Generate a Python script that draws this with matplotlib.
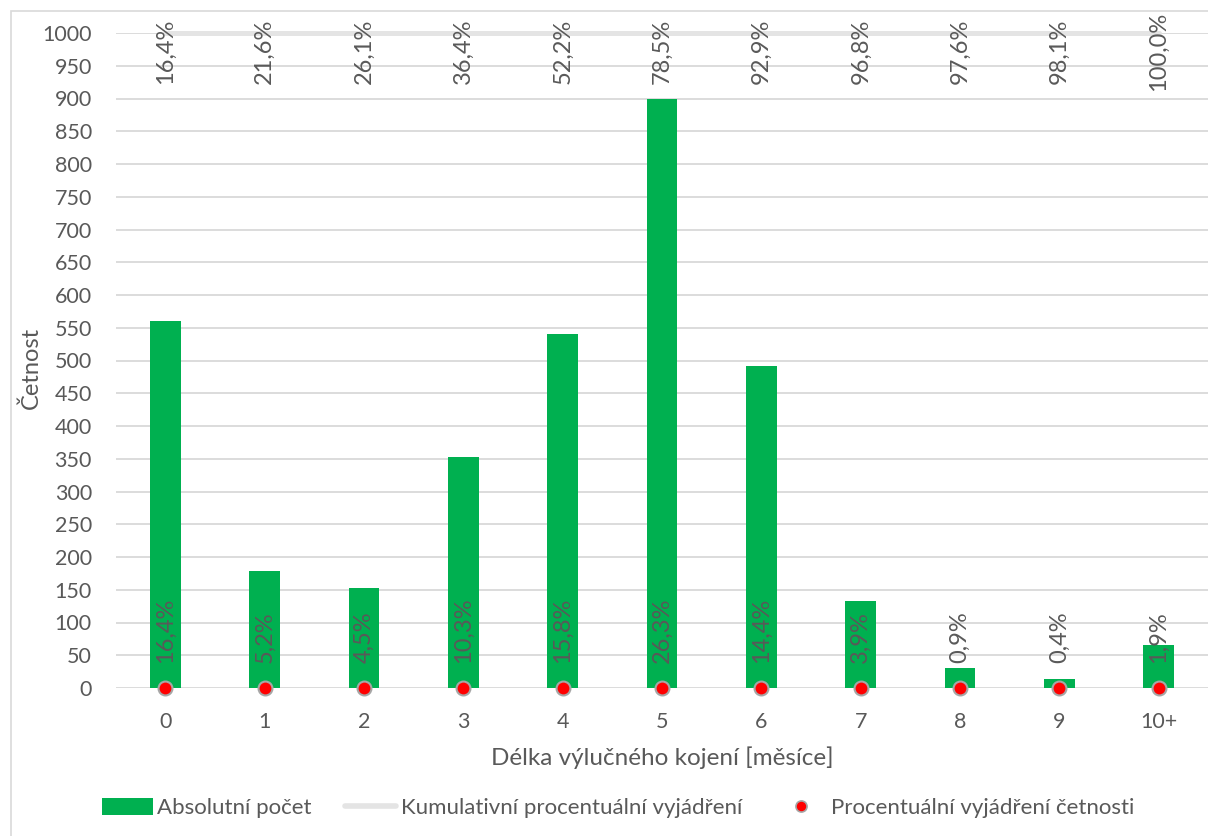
import numpy as np
import matplotlib
matplotlib.use("Agg")
import matplotlib.pyplot as plt
from matplotlib.lines import Line2D
from matplotlib.patches import Patch, Rectangle

# Breastfeeding duration data
categories = ["0", "1", "2", "3", "4", "5", "6", "7", "8", "9", "10+"]
counts = [561, 178, 153, 353, 540, 900, 491, 133, 30, 14, 65]
share_pct = [16.4, 5.2, 4.5, 10.3, 15.8, 26.3, 14.4, 3.9, 0.9, 0.4, 1.9]
cumulative_pct = [16.4, 21.6, 26.1, 36.4, 52.2, 78.5, 92.9, 96.8, 97.6, 98.1, 100.0]
yticks = list(range(0, 1001, 50))

TEXT = "#595959"
GRID = "#d9d9d9"
GREEN = "#00B050"
plt.rcParams["font.family"] = ["Lato", "DejaVu Sans"]
FS = 15.5
LABEL_FS = 17

W, H = 1208, 836
fig = plt.figure(figsize=(W / 100, H / 100), dpi=100)

def fx(px):
    return px / W

def fy(py):
    return 1 - py / H

# chart-area frame
fig.patches.append(Rectangle((fx(11), fy(H + 20)), 1.2, fy(11) - fy(H + 20),
                             transform=fig.transFigure, fill=False,
                             edgecolor=GRID, linewidth=1.2))

ax = fig.add_axes([fx(115.5), fy(688), fx(1208.5) - fx(115.5), fy(33) - fy(688)])
x = np.arange(len(categories))
share = np.array(share_pct) / 100
cum = np.array(cumulative_pct) / 100

ax.set_ylim(0, 1000)
ax.set_xlim(-0.5, len(categories) - 0.5)
ax.set_yticks(yticks)
ax.set_xticks(x)
ax.set_xticklabels(categories)
ax.tick_params(axis="both", length=0, labelsize=FS, labelcolor=TEXT)
ax.tick_params(axis="y", pad=17)
ax.tick_params(axis="x", pad=17)
for s in ax.spines.values():
    s.set_visible(False)
ax.grid(axis="y", color=GRID, linewidth=1.3)
ax.set_axisbelow(True)

bars = ax.bar(x, counts, width=0.31, color=GREEN, zorder=2)

# percentage share on the primary axis (fractions, so they sit on the baseline)
ax.plot(x, share, linestyle="none", marker="o", markersize=10,
        markerfacecolor="#ff0000", markeredgecolor="#a6a6a6",
        markeredgewidth=1.5, zorder=4, clip_on=False)
for xi, v, p in zip(x, share, share_pct):
    ax.annotate(f"{p:.1f}%".replace(".", ","), (xi, v), xytext=(0, 25),
                textcoords="offset pixels", rotation=90, ha="center",
                va="bottom", fontsize=LABEL_FS, color=TEXT, zorder=5)

# cumulative share on a secondary axis whose range tops out below the data
ax2 = ax.twinx()
ax2.set_ylim(0, 0.1)
ax2.set_yticks([])
for s in ax2.spines.values():
    s.set_visible(False)
top = ax2.get_ylim()[1]
cum_shown = np.minimum(cum, top)
ax2.plot(x, cum_shown, color="#e4e4e4", linewidth=3.6, clip_on=False,
         solid_capstyle="round", zorder=3)
for xi, v, p in zip(x, cum_shown, cumulative_pct):
    ax2.annotate(f"{p:.1f}%".replace(".", ","), (xi, v), xytext=(0, -18),
                 textcoords="offset pixels", rotation=90, ha="center",
                 va="center", fontsize=LABEL_FS, color=TEXT, zorder=5)

fig.text(fx(31), fy(368), "Četnost", rotation=90, ha="center", va="center",
         fontsize=17, color=TEXT)
fig.text(fx(662), fy(758), "Délka výlučného kojení [měsíce]", ha="center",
         va="center", fontsize=17.5, color=TEXT)

handles = [
    Patch(facecolor=GREEN, edgecolor="none"),
    Line2D([], [], color="#e4e4e4", linewidth=4, solid_capstyle="round"),
    Line2D([], [], linestyle="none", marker="o", markersize=8,
           markerfacecolor="#ff0000", markeredgecolor="#a6a6a6",
           markeredgewidth=1.2),
]
labels = ["Absolutní počet", "Kumulativní procentuální vyjádření",
          "Procentuální vyjádření četnosti"]
fig.legend(handles, labels, loc="center", bbox_to_anchor=(fx(618), fy(808)),
           ncol=3, frameon=False, fontsize=16, labelcolor=TEXT,
           handlelength=2.3, handleheight=0.8, handletextpad=0.2,
           columnspacing=1.5)

fig.savefig("out.png", dpi=100)
